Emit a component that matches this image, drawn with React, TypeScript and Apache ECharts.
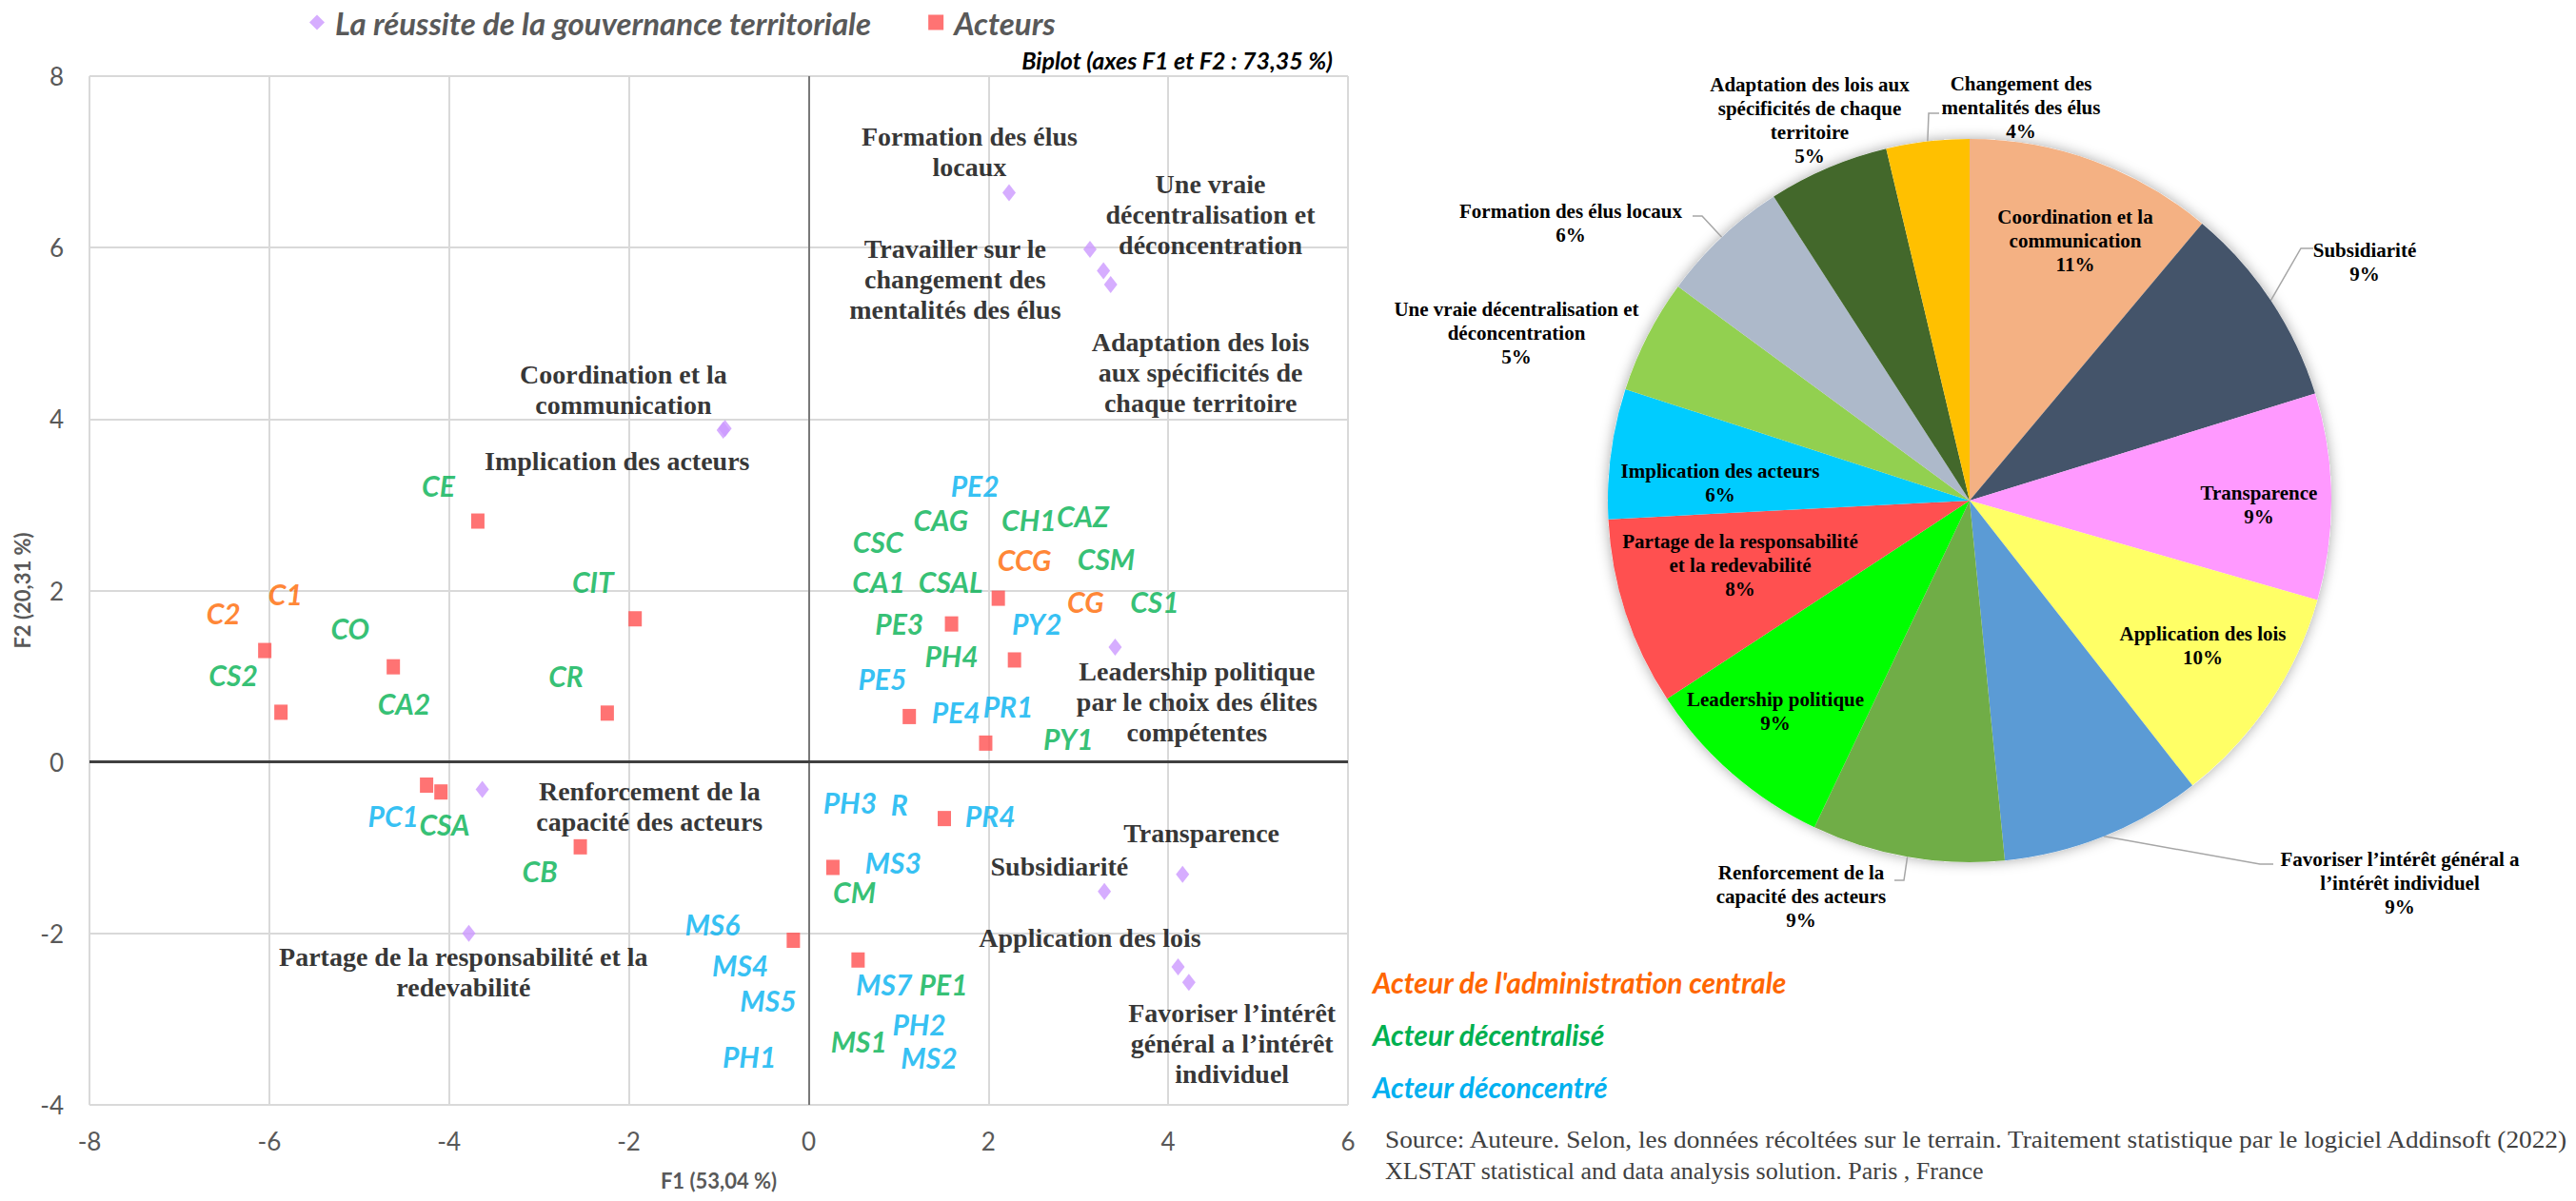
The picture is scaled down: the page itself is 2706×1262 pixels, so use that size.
import React, { useEffect, useRef } from "react";
import * as echarts from "echarts";

// ---------- Biplot data ----------
const GOV_SERIES = "La réussite de la gouvernance territoriale";
const ACT_SERIES = "Acteurs";

const GOV_F1 = [2.23, 3.13, 3.28, 3.36, -0.93, -0.95, 3.41, -3.63, -3.78, 4.16, 3.29, 4.11, 4.23];
const GOV_F2 = [6.64, 5.98, 5.73, 5.57, 3.89, 3.87, 1.34, -0.32, -2.0, -1.31, -1.51, -2.39, -2.57];

const GOV_LABELS = [
  "Formation des élus\nlocaux",
  "Une vraie\ndécentralisation et\ndéconcentration",
  "Travailler sur le\nchangement des\nmentalités des élus",
  "Adaptation des lois\naux spécificités de\nchaque territoire",
  "Coordination et la\ncommunication",
  "Implication des acteurs",
  "Leadership politique\npar le choix des élites\ncompétentes",
  "Renforcement de la\ncapacité des acteurs",
  "Partage de la responsabilité et la\nredevabilité",
  "Transparence",
  "Subsidiarité",
  "Application des lois",
  "Favoriser l’intérêt\ngénéral a l’intérêt\nindividuel",
];
const GOV_LABEL_F1 = [1.79, 4.47, 1.63, 4.36, -2.06, -2.13, 4.32, -1.77, -3.84, 4.37, 2.79, 3.13, 4.71];
const GOV_LABEL_F2 = [7.12, 6.39, 5.63, 4.54, 4.34, 3.51, 0.7, -0.52, -2.45, -0.83, -1.22, -2.05, -3.28];

const ACT_F1 = [-3.68, -1.93, -6.05, -4.62, -5.87, -2.24, 2.11, 1.59, 2.29, 1.12, 1.97, -4.25, -4.09, -2.54, 1.51, 0.27, -0.17, 0.55];
const ACT_F2 = [2.81, 1.67, 1.3, 1.11, 0.58, 0.57, 1.91, 1.61, 1.19, 0.53, 0.22, -0.27, -0.35, -0.99, -0.66, -1.23, -2.08, -2.31];

// Actor codes (label text) and label positions, by actor type
const CENTRAL_CODES = ["C1", "C2", "CCG", "CG"];
const CENTRAL_F1 = [-5.82, -6.51, 2.4, 3.08];
const CENTRAL_F2 = [1.96, 1.74, 2.36, 1.87];

const DECENTRAL_CODES = ["CE", "CIT", "CO", "CS2", "CR", "CA2", "CAG", "CH1", "CAZ", "CSC", "CSM", "CA1", "CSAL", "CS1", "PE3", "PH4", "PY1", "CSA", "CB", "CM", "PE1", "MS1"];
const DECENTRAL_F1 = [-4.12, -2.4, -5.1, -6.4, -2.7, -4.5, 1.47, 2.45, 3.05, 0.77, 3.31, 0.78, 1.58, 3.85, 1.01, 1.59, 2.89, -4.05, -2.99, 0.51, 1.5, 0.56];
const DECENTRAL_F2 = [3.23, 2.11, 1.56, 1.02, 1.01, 0.69, 2.83, 2.83, 2.87, 2.57, 2.37, 2.11, 2.11, 1.87, 1.62, 1.24, 0.27, -0.72, -1.27, -1.51, -2.59, -3.26];

const DECONC_CODES = ["PE2", "PY2", "PE5", "PE4", "PR1", "PC1", "PH3", "R", "PR4", "MS3", "MS6", "MS4", "MS7", "MS5", "PH2", "MS2", "PH1"];
const DECONC_F1 = [1.85, 2.54, 0.82, 1.64, 2.22, -4.62, 0.46, 1.01, 2.02, 0.94, -1.07, -0.76, 0.84, -0.45, 1.23, 1.34, -0.66];
const DECONC_F2 = [3.23, 1.62, 0.97, 0.58, 0.65, -0.63, -0.47, -0.49, -0.63, -1.17, -1.89, -2.37, -2.59, -2.78, -3.06, -3.44, -3.43];

const X_MIN = -8, X_MAX = 6, Y_MIN = -4, Y_MAX = 8, TICK_STEP = 2;

// ---------- Pie data ----------
const PIE_NAMES = [
  "Coordination et la\ncommunication",
  "Subsidiarité",
  "Transparence",
  "Application des lois",
  "Favoriser l’intérêt général a\nl’intérêt individuel",
  "Renforcement de la\ncapacité des acteurs",
  "Leadership politique",
  "Partage de la responsabilité\net la redevabilité",
  "Implication des acteurs",
  "Une vraie décentralisation et\ndéconcentration",
  "Formation des élus locaux",
  "Adaptation des lois aux\nspécificités de chaque\nterritoire",
  "Changement des\nmentalités des élus",
];
const PIE_VALUES = [11.1, 9.1, 9.2, 10.0, 9.0, 8.6, 8.7, 8.4, 5.8, 5.1, 5.8, 5.4, 3.7];
const PIE_COLORS = ["#F4B183", "#44546A", "#FF99FF", "#FFFF66", "#5B9BD5", "#70AD47", "#00FF00", "#FF5050", "#00CCFF", "#92D050", "#ADB9CA", "#43682B", "#FFC000"];

// Label placement for the pie (pixel layout, not data)
const PIE_CENTER = [2069, 526];
const PIE_RADIUS = 380;
const PIE_LABEL_LAYOUT: { x: number; y: number; line?: number[][] }[] = [
  { x: 2180, y: 253 },
  { x: 2484, y: 275, line: [[2417, 261], [2430, 261]] },
  { x: 2373, y: 530 },
  { x: 2314, y: 678 },
  { x: 2521, y: 928, line: [[2374, 908], [2388, 908]] },
  { x: 1892, y: 942, line: [[2000, 925], [1990, 925]] },
  { x: 1865, y: 747 },
  { x: 1828, y: 594 },
  { x: 1807, y: 507 },
  { x: 1593, y: 350 },
  { x: 1650, y: 234, line: [[1788, 227], [1778, 227]] },
  { x: 1901, y: 126 },
  { x: 2123, y: 113, line: [[2026, 119], [2037, 119]] },
];

const ORANGE = "#FF6600";
const GREEN = "#00B050";
const BLUE = "#00B0F0";

function textSeries(name: string, xs: number[], ys: number[], texts: string[], label: any) {
  return {
    type: "scatter",
    name,
    silent: true,
    symbolSize: 1,
    itemStyle: { color: "rgba(0,0,0,0)" },
    emphasis: { disabled: true },
    z: 5,
    data: texts.map((t, i) => ({ name: t, value: [xs[i], ys[i]] })),
    label: { show: true, position: "inside", formatter: "{b}", align: "center", ...label },
  };
}

const actorLabel = (color: string) => ({
  color,
  fontFamily: "Lato",
  fontStyle: "italic",
  fontWeight: "bold",
  fontSize: 30,
});

export default function App() {
  const ref = useRef<HTMLDivElement>(null);

  useEffect(() => {
    if (!ref.current) return;
    const chart = echarts.init(ref.current, null, { renderer: "svg" });

    const axisLabel = { fontFamily: "Lato", fontSize: 26, color: "#595959" };
    const splitLine = { show: true, lineStyle: { color: "#D9D9D9", width: 2 } };
    const nameStyle = { fontFamily: "Lato", fontSize: 22, fontWeight: "bold", color: "#595959" };

    const option: any = {
      animation: false,
      backgroundColor: "#ffffff",
      legend: {
        data: [
          { name: GOV_SERIES, icon: "diamond" },
          { name: ACT_SERIES, icon: "rect" },
        ],
        left: 320,
        top: 2,
        itemWidth: 16,
        itemHeight: 16,
        itemGap: 60,
        selectedMode: false,
        textStyle: {
          fontFamily: "Lato",
          fontStyle: "italic",
          fontWeight: "bold",
          fontSize: 33,
          color: "#595959",
          padding: [0, 0, 0, 6],
        },
      },
      grid: { left: 94, top: 80, width: 1322, height: 1081, containLabel: false },
      xAxis: {
        type: "value",
        min: X_MIN,
        max: X_MAX,
        interval: TICK_STEP,
        axisLine: { show: false },
        axisTick: { show: false },
        splitLine,
        axisLabel: { ...axisLabel, margin: 25 },
        name: "F1 (53,04 %)",
        nameLocation: "middle",
        nameGap: 68,
        nameTextStyle: nameStyle,
      },
      yAxis: {
        type: "value",
        min: Y_MIN,
        max: Y_MAX,
        interval: TICK_STEP,
        axisLine: { show: false },
        axisTick: { show: false },
        splitLine,
        axisLabel: { ...axisLabel, margin: 27 },
        name: "F2 (20,31 %)",
        nameLocation: "middle",
        nameRotate: 90,
        nameGap: 60,
        nameTextStyle: nameStyle,
      },
      series: [
        {
          type: "scatter",
          name: GOV_SERIES,
          symbol: "diamond",
          symbolSize: [14, 18],
          itemStyle: { color: "#CC99FF" },
          z: 3,
          data: GOV_F1.map((x, i) => [x, GOV_F2[i]]),
          markLine: {
            silent: true,
            symbol: "none",
            label: { show: false },
            data: [
              { xAxis: 0, lineStyle: { color: "#595959", width: 1.5, type: "solid" } },
              { yAxis: 0, lineStyle: { color: "#404040", width: 3, type: "solid" } },
            ],
          },
        },
        {
          type: "scatter",
          name: ACT_SERIES,
          symbol: "rect",
          symbolSize: [14, 16],
          itemStyle: { color: "#FF5050" },
          z: 3,
          data: ACT_F1.map((x, i) => [x, ACT_F2[i]]),
        },
        textSeries("govLabels", GOV_LABEL_F1, GOV_LABEL_F2, GOV_LABELS, {
          color: "#000000",
          fontFamily: "Liberation Serif",
          fontWeight: "bold",
          fontSize: 28,
          lineHeight: 32,
        }),
        textSeries("central", CENTRAL_F1, CENTRAL_F2, CENTRAL_CODES, actorLabel(ORANGE)),
        textSeries("decentral", DECENTRAL_F1, DECENTRAL_F2, DECENTRAL_CODES, actorLabel(GREEN)),
        textSeries("deconc", DECONC_F1, DECONC_F2, DECONC_CODES, actorLabel(BLUE)),
        {
          type: "pie",
          name: "pieShadow",
          silent: true,
          center: PIE_CENTER,
          radius: PIE_RADIUS,
          z: 1,
          label: { show: false },
          labelLine: { show: false },
          itemStyle: { color: "#ffffff", shadowBlur: 14, shadowColor: "rgba(0,0,0,0.35)" },
          data: [{ name: "shadow", value: 1 }],
        },
        {
          type: "pie",
          name: "pie",
          center: PIE_CENTER,
          radius: PIE_RADIUS,
          startAngle: 90,
          clockwise: true,
          avoidLabelOverlap: false,
          z: 2,
          emphasis: { disabled: true },
          itemStyle: { borderWidth: 0 },
          data: PIE_NAMES.map((n, i) => ({
            name: n,
            value: PIE_VALUES[i],
            itemStyle: { color: PIE_COLORS[i] },
            labelLine: { show: !!PIE_LABEL_LAYOUT[i].line },
          })),
          label: {
            show: true,
            position: "outside",
            formatter: (p: any) => `${p.name}\n${Math.round(p.percent)}%`,
            fontFamily: "Liberation Serif",
            fontWeight: "bold",
            fontSize: 21,
            lineHeight: 25,
            color: "#000000",
          },
          labelLine: { show: true, length: 10, length2: 10, lineStyle: { color: "#A6A6A6", width: 1.5 } },
          labelLayout: (params: any) => {
            const cfg = PIE_LABEL_LAYOUT[params.dataIndex];
            const out: any = { x: cfg.x, y: cfg.y, align: "center", verticalAlign: "middle" };
            if (cfg.line && params.labelLinePoints) {
              out.labelLinePoints = [params.labelLinePoints[0], cfg.line[0], cfg.line[1]];
            }
            return out;
          },
        },
      ],
      graphic: {
        elements: [
          {
            type: "text",
            x: 1400,
            y: 63,
            style: {
              text: "Biplot (axes F1 et F2 : 73,35 %)",
              font: "italic bold 25px Lato",
              fill: "#000000",
              textAlign: "right",
              textVerticalAlign: "middle",
            },
          },
          {
            type: "text",
            x: 1442,
            y: 1032,
            style: { text: "Acteur de l'administration centrale", font: "italic bold 30px Lato", fill: ORANGE, textVerticalAlign: "middle" },
          },
          {
            type: "text",
            x: 1442,
            y: 1087,
            style: { text: "Acteur décentralisé", font: "italic bold 30px Lato", fill: GREEN, textVerticalAlign: "middle" },
          },
          {
            type: "text",
            x: 1442,
            y: 1142,
            style: { text: "Acteur déconcentré", font: "italic bold 30px Lato", fill: BLUE, textVerticalAlign: "middle" },
          },
          {
            type: "text",
            x: 1455,
            y: 1197,
            scaleX: 1.05,
            style: {
              text: "Source: Auteure. Selon, les données récoltées sur le terrain. Traitement statistique par le logiciel Addinsoft (2022)",
              font: '26px "Liberation Serif"',
              fill: "#404040",
              textVerticalAlign: "middle",
            },
          },
          {
            type: "text",
            x: 1455,
            y: 1230,
            style: {
              text: "XLSTAT statistical and data analysis solution. Paris , France",
              font: '26px "Liberation Serif"',
              fill: "#404040",
              textVerticalAlign: "middle",
            },
          },
        ],
      },
    };

    chart.setOption(option);
    return () => chart.dispose();
  }, []);

  return (
    <div
      ref={ref}
      style={{ position: "fixed", left: 0, top: 0, width: 2706, height: 1262, background: "#ffffff" }}
    />
  );
}
